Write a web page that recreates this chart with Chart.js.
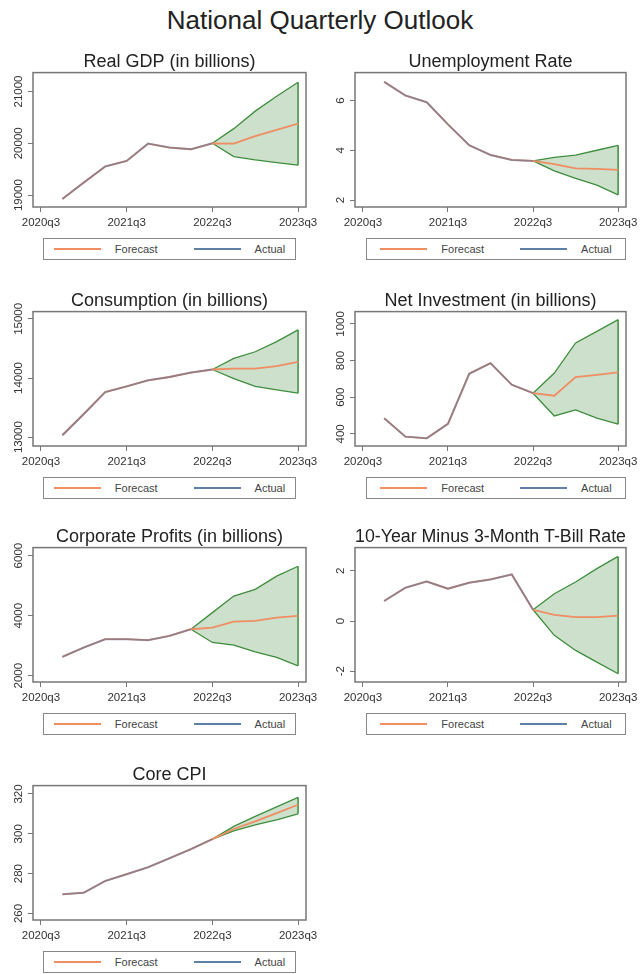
<!DOCTYPE html>
<html>
<head>
<meta charset="utf-8">
<title>National Quarterly Outlook</title>
<script src="https://cdn.jsdelivr.net/npm/chart.js@4.4.1/dist/chart.umd.min.js"></script>
<style>
  body { margin: 0; background: #fff; font-family: 'Liberation Sans', Arial, sans-serif; }
  #page { position: relative; width: 640px; height: 974px; overflow: hidden; }
  #main-title { position: absolute; left: 0; top: 5px; width: 640px; text-align: center;
                font-size: 26px; line-height: 30px; color: #222; }
  canvas { position: absolute; }
  .legend { position: absolute; height: 22px; box-sizing: border-box; border: 1px solid #888;
            display: flex; align-items: center; justify-content: center; gap: 36px;
            font-size: 11px; color: #444; }
  .legend .item { display: flex; align-items: center; }
  .legend .swatch { width: 47px; height: 2px; margin-right: 14px; }
</style>
</head>
<body>
<div id="page">
  <div id="main-title">National Quarterly Outlook</div>
</div>
<script>
// quarters on the x axis, index = position in this list
const quarters = ['2020q3', '2020q4', '2021q1', '2021q2', '2021q3', '2021q4', '2022q1',
                  '2022q2', '2022q3', '2022q4', '2023q1', '2023q2', '2023q3'];
const tickLabels = ['2020q3', '2021q3', '2022q3', '2023q3'];

// Real GDP: actual 2020q4-2022q3, forecast/band 2022q3-2023q3
const gdpActual   = [18923, 19244, 19552, 19660, 19994, 19917, 19885, 20000];
const gdpForecast = [20000, 19994, 20140, 20260, 20380];
const gdpUpper    = [20000, 20283, 20621, 20910, 21180];
const gdpLower    = [20000, 19744, 19680, 19628, 19577];
const gdpTicks    = [19000, 20000, 21000];

// Unemployment rate
const unempActual   = [6.75, 6.2, 5.93, 5.04, 4.2, 3.81, 3.61, 3.57];
const unempForecast = [3.57, 3.44, 3.27, 3.25, 3.21];
const unempUpper    = [3.57, 3.71, 3.8, 4.0, 4.2];
const unempLower    = [3.57, 3.17, 2.87, 2.6, 2.21];
const unempTicks    = [2, 4, 6];

// Consumption
const consActual   = [13032, 13391, 13761, 13858, 13961, 14017, 14092, 14144];
const consForecast = [14144, 14160, 14160, 14200, 14274];
const consUpper    = [14144, 14332, 14444, 14615, 14815];
const consLower    = [14144, 13990, 13858, 13801, 13744];
const consTicks    = [13000, 14000, 15000];

// Net investment
const invActual   = [486, 385, 376, 455, 728, 786, 668, 622];
const invForecast = [622, 608, 710, 722, 735];
const invUpper    = [622, 732, 896, 959, 1023];
const invLower    = [622, 498, 531, 486, 453];
const invTicks    = [400, 600, 800, 1000];

// Corporate profits: actual ends 2022q2, forecast/band 2022q2-2023q3
const profActual   = [2630, 2941, 3216, 3216, 3183, 3326, 3548];
const profForecast = [3548, 3604, 3803, 3825, 3935, 3990];
const profUpper    = [3548, 4101, 4652, 4874, 5315, 5646];
const profLower    = [3548, 3107, 3017, 2795, 2610, 2331];
const profTicks    = [2000, 4000, 6000];

// 10-year minus 3-month T-bill spread
const spreadActual   = [0.8, 1.33, 1.58, 1.29, 1.53, 1.66, 1.86, 0.45];
const spreadForecast = [0.45, 0.25, 0.16, 0.16, 0.22];
const spreadUpper    = [0.45, 1.09, 1.56, 2.09, 2.58];
const spreadLower    = [0.45, -0.57, -1.17, -1.64, -2.1];
const spreadTicks    = [-2, 0, 2];

// Core CPI
const cpiActual   = [269.6, 270.4, 276.3, 279.7, 283.2, 287.7, 292.3, 297.3];
const cpiForecast = [297.3, 302.4, 306.2, 310.4, 314.6];
const cpiUpper    = [297.3, 303.7, 308.7, 313.5, 318.3];
const cpiLower    = [297.3, 301.5, 304.5, 307.0, 310.0];
const cpiTicks    = [260, 280, 300, 320];

const FORECAST_COLOR = '#f08d63';
const ACTUAL_COLOR = 'rgba(80,112,155,0.55)';
const ACTUAL_LEGEND = '#5f80a6';
const BAND_LINE = '#3f8f3f';
const BAND_FILL = 'rgba(50,130,50,0.25)';
const FONT = "'Liberation Sans', Arial, sans-serif";

const panels = [
  { title: 'Real GDP (in billions)', actual: gdpActual, forecast: gdpForecast, upper: gdpUpper, lower: gdpLower,
    ticks: gdpTicks, min: 18770, max: 21365, fStart: 8 },
  { title: 'Unemployment Rate', actual: unempActual, forecast: unempForecast, upper: unempUpper, lower: unempLower,
    ticks: unempTicks, min: 1.72, max: 7.12, fStart: 8 },
  { title: 'Consumption (in billions)', actual: consActual, forecast: consForecast, upper: consUpper, lower: consLower,
    ticks: consTicks, min: 12850, max: 15123, fStart: 8 },
  { title: 'Net Investment (in billions)', actual: invActual, forecast: invForecast, upper: invUpper, lower: invLower,
    ticks: invTicks, min: 334, max: 1067, fStart: 8 },
  { title: 'Corporate Profits (in billions)', actual: profActual, forecast: profForecast, upper: profUpper, lower: profLower,
    ticks: profTicks, min: 1791, max: 6266, fStart: 7 },
  { title: '10-Year Minus 3-Month T-Bill Rate', actual: spreadActual, forecast: spreadForecast, upper: spreadUpper, lower: spreadLower,
    ticks: spreadTicks, min: -2.43, max: 2.93, fStart: 8 },
  { title: 'Core CPI', actual: cpiActual, forecast: cpiForecast, upper: cpiUpper, lower: cpiLower,
    ticks: cpiTicks, min: 256.7, max: 324.2, fStart: 8 }
];

const rowTops = [49, 288, 524, 762];
const actualStart = 1; // every series starts in 2020q4

function pts(vals, start) {
  return vals.map((v, i) => ({ x: start + i, y: v }));
}

// plot box + rotated y tick labels (stata style)
const axisFrame = {
  id: 'axisFrame',
  beforeDatasetsDraw(chart) {
    const { ctx, chartArea: a } = chart;
    ctx.save();
    ctx.strokeStyle = '#777';
    ctx.lineWidth = 1.5;
    ctx.strokeRect(a.left, a.top, a.right - a.left, a.bottom - a.top);
    ctx.restore();
  },
  afterDraw(chart) {
    const { ctx, chartArea: a } = chart;
    const ys = chart.scales.y;
    ctx.save();
    ctx.fillStyle = '#333';
    ctx.font = '11.5px ' + FONT;
    ctx.textAlign = 'center';
    ctx.textBaseline = 'middle';
    ys.ticks.forEach(t => {
      ctx.save();
      ctx.translate(a.left - 14, ys.getPixelForValue(t.value));
      ctx.rotate(-Math.PI / 2);
      ctx.fillText(String(t.value), 0, 0);
      ctx.restore();
    });
    ctx.restore();
  }
};

const page = document.getElementById('page');

panels.forEach((p, i) => {
  const col = i % 2;
  const top = rowTops[Math.floor(i / 2)];

  const canvas = document.createElement('canvas');
  canvas.width = 320;
  canvas.height = 180;
  canvas.style.left = (col * 320) + 'px';
  canvas.style.top = top + 'px';
  page.appendChild(canvas);

  const last = p.fStart + p.upper.length - 1;
  // forecast line also runs over the history, the actual line sits on top of it
  const forecastLine = pts(p.actual.slice(0, p.fStart - actualStart), actualStart)
    .concat(pts(p.forecast, p.fStart));

  new Chart(canvas, {
    type: 'line',
    data: {
      datasets: [
        { label: 'Upper', data: pts(p.upper, p.fStart), borderColor: BAND_LINE, borderWidth: 1.3,
          backgroundColor: BAND_FILL, fill: '+1', order: 5 },
        { label: 'Lower', data: pts(p.lower, p.fStart), borderColor: BAND_LINE, borderWidth: 1.3,
          fill: false, order: 5 },
        { label: 'Edge', data: [{ x: last, y: p.upper[p.upper.length - 1] }, { x: last, y: p.lower[p.lower.length - 1] }],
          borderColor: BAND_LINE, borderWidth: 1.5, fill: false, order: 5 },
        { label: 'Forecast', data: forecastLine, borderColor: FORECAST_COLOR, borderWidth: 1.8,
          fill: false, order: 2 },
        { label: 'Actual', data: pts(p.actual, actualStart), borderColor: ACTUAL_COLOR, borderWidth: 2,
          fill: false, order: 1 }
      ]
    },
    options: {
      responsive: false,
      animation: false,
      layout: { padding: { left: 0, right: 14, top: 0, bottom: 0 } },
      elements: { point: { radius: 0 }, line: { tension: 0 } },
      plugins: {
        legend: { display: false },
        tooltip: { enabled: false },
        title: {
          display: true, text: p.title, fullSize: false, color: '#222',
          font: { family: FONT, size: 18, weight: 'normal' },
          padding: { top: 2, bottom: 0 }
        }
      },
      scales: {
        x: {
          type: 'linear', min: -0.37, max: 12.37,
          afterBuildTicks: s => { s.ticks = tickLabels.map(l => ({ value: quarters.indexOf(l) })); },
          ticks: { callback: v => quarters[v], color: '#333', font: { family: FONT, size: 11.5 },
                   padding: 4, maxRotation: 0, autoSkip: false },
          grid: { drawOnChartArea: false, tickLength: 5, tickColor: '#777' },
          border: { display: false },
          afterFit: s => { s.height = 22; s.paddingLeft = 0; s.paddingRight = 0; }
        },
        y: {
          min: p.min, max: p.max,
          afterBuildTicks: s => { s.ticks = p.ticks.map(v => ({ value: v })); },
          ticks: { display: false },
          grid: { drawOnChartArea: false, tickLength: 5, tickColor: '#777' },
          border: { display: false },
          afterFit: s => { s.width = col ? 35 : 33; s.paddingTop = 0; s.paddingBottom = 0; }
        }
      }
    },
    plugins: [axisFrame]
  });

  // stata-like legend box under each panel
  const leg = document.createElement('div');
  leg.className = 'legend';
  leg.style.top = (top + 189) + 'px';
  leg.style.left = (col ? 366 : 43) + 'px';
  leg.style.width = (col ? 260 : 253) + 'px';
  leg.innerHTML =
    '<span class="item"><span class="swatch" style="background:' + FORECAST_COLOR + '"></span>Forecast</span>' +
    '<span class="item"><span class="swatch" style="background:' + ACTUAL_LEGEND + '"></span>Actual</span>';
  page.appendChild(leg);
});
</script>
</body>
</html>
